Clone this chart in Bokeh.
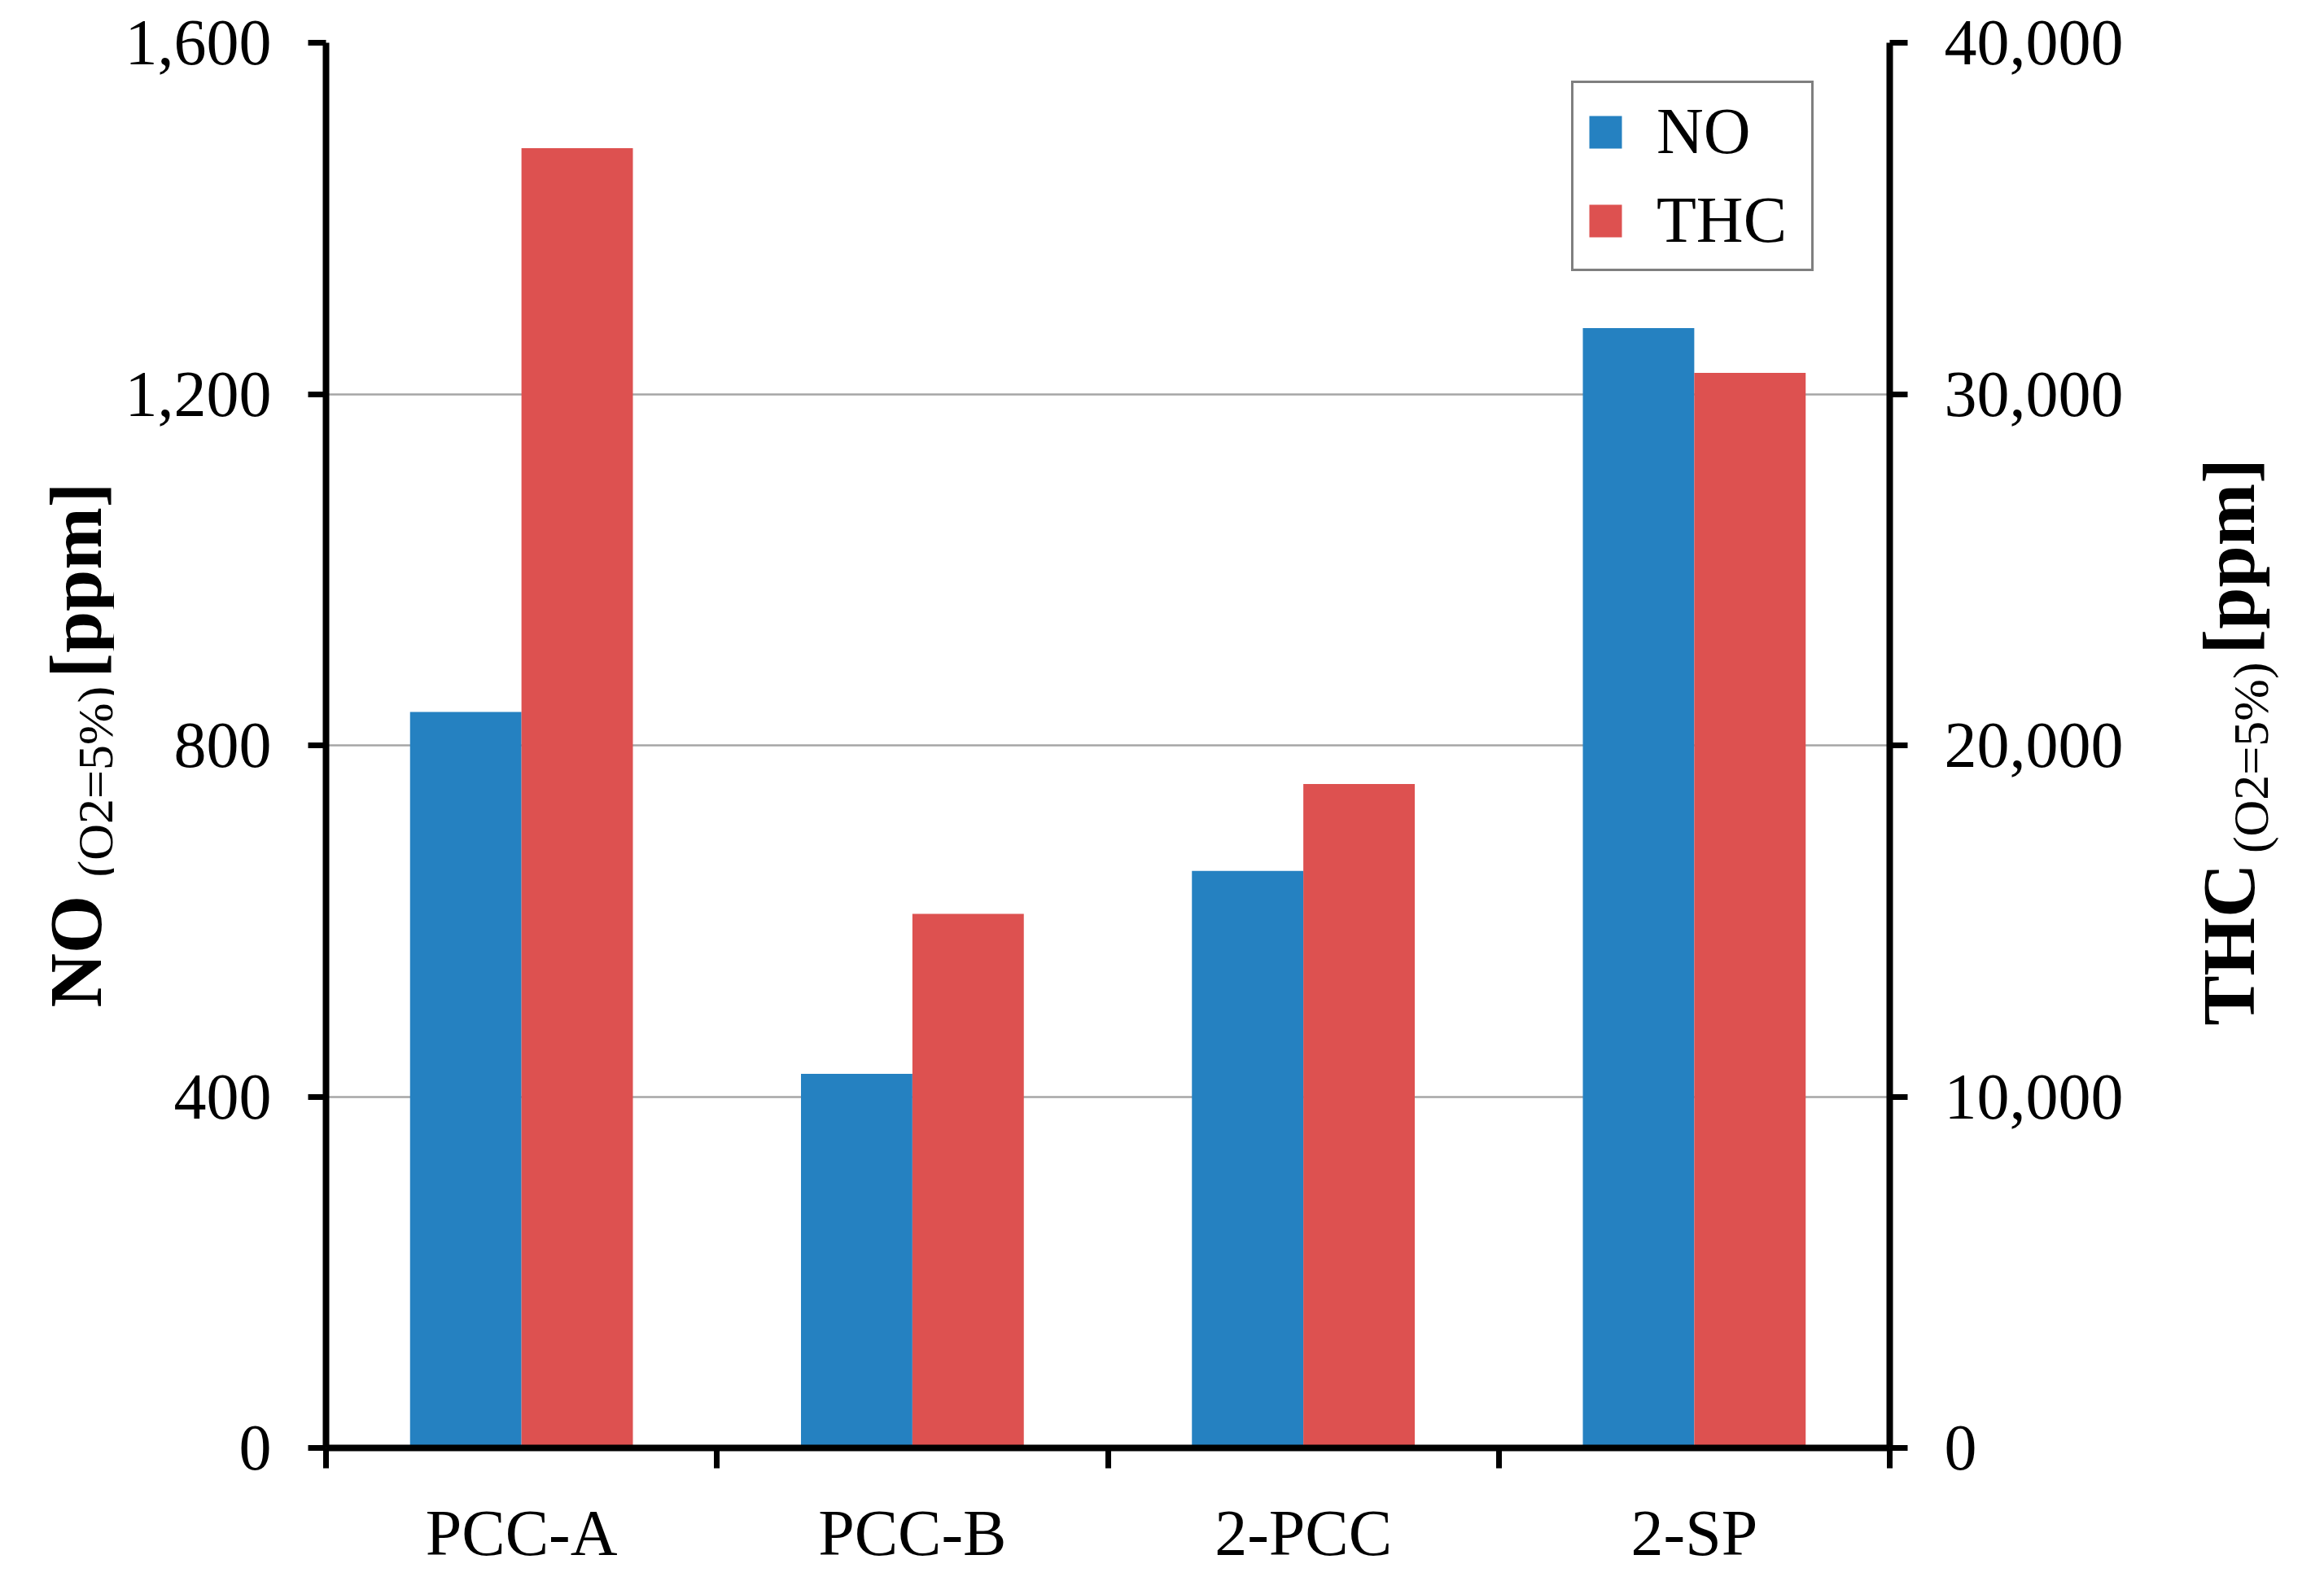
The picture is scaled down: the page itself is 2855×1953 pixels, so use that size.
import math
from bokeh.plotting import figure
from bokeh.layouts import row
from bokeh.models import (Range1d, LinearAxis, FixedTicker, NumeralTickFormatter,
                          CustomJSTickFormatter, Label, ColumnDataSource, Legend, Grid)
from bokeh.embed import file_html
from bokeh.resources import INLINE

# ---- data ----
categories = ["PCC-A", "PCC-B", "2-PCC", "2-SP"]
no_ppm = [838, 426, 657, 1275]          # left axis
thc_ppm = [37000, 15200, 18900, 30600]  # right axis
left_ticks = [0, 400, 800, 1200, 1600]
right_ticks = [0, 10000, 20000, 30000, 40000]

FONT = "Liberation Serif"
BLUE = "#2581C1"
RED = "#DD5150"
bar_w = 0.285

idx = list(range(len(categories)))
src = ColumnDataSource(dict(
    x_no=[i + 0.5 - bar_w / 2 for i in idx],
    x_thc=[i + 0.5 + bar_w / 2 for i in idx],
    no=no_ppm, thc=thc_ppm))

H = 1940
LEFT_W, MAIN_W, RIGHT_W = 140, 2492, 207

p = figure(width=MAIN_W, height=H, output_backend="svg", toolbar_location=None,
           x_range=Range1d(0, len(categories)), y_range=Range1d(0, 1600),
           x_axis_type=None, y_axis_type=None,
           min_border_left=260, min_border_right=311, min_border_top=52,
           min_border_bottom=162)
p.extra_y_ranges = {"thc": Range1d(0, 40000)}
p.outline_line_color = None
p.background_fill_color = "white"
p.border_fill_color = "white"

r_no = p.vbar(x="x_no", top="no", width=bar_w, bottom=0, source=src,
              fill_color=BLUE, line_color=None)
r_thc = p.vbar(x="x_thc", top="thc", width=bar_w, bottom=0, source=src,
               fill_color=RED, line_color=None, y_range_name="thc")

def style_axis(ax):
    ax.axis_line_color = "black"
    ax.axis_line_width = 8
    ax.major_tick_line_color = "black"
    ax.major_tick_line_width = 7
    ax.major_tick_out = 22
    ax.major_tick_in = 0
    ax.minor_tick_line_color = None
    ax.major_label_text_font = FONT
    ax.major_label_text_font_size = "80px"
    ax.major_label_text_color = "black"
    ax.major_label_standoff = 45

# left axis
yl = LinearAxis(ticker=FixedTicker(ticks=left_ticks),
                formatter=NumeralTickFormatter(format="0,0"))
style_axis(yl)
p.add_layout(yl, "left")

# right axis
yr = LinearAxis(y_range_name="thc", ticker=FixedTicker(ticks=right_ticks),
                formatter=NumeralTickFormatter(format="0,0"))
style_axis(yr)
p.add_layout(yr, "right")

# bottom axis: labels at centres, ticks at category boundaries
xb = LinearAxis(ticker=FixedTicker(ticks=[i + 0.5 for i in idx],
                                   minor_ticks=list(range(len(categories) + 1))),
                formatter=CustomJSTickFormatter(args=dict(labels=categories),
                                                code="return labels[Math.round(tick - 0.5)] || ''"))
style_axis(xb)
xb.major_tick_line_color = None
xb.minor_tick_line_color = "black"
xb.minor_tick_line_width = 7
xb.minor_tick_out = 25
xb.minor_tick_in = 0
xb.major_label_standoff = 35
p.add_layout(xb, "below")

# grid
g = Grid(dimension=1, ticker=FixedTicker(ticks=left_ticks),
         grid_line_color="#A6A6A6", grid_line_width=2.5)
p.add_layout(g, "center")

legend = Legend(items=[("NO", [r_no]), ("THC", [r_thc])], location=(1530, 1445))
legend.label_text_font = FONT
legend.label_text_font_size = "80px"
legend.label_text_color = "black"
legend.glyph_width = 50
legend.glyph_height = 50
legend.label_standoff = 38
legend.label_width = 176
legend.padding = 14
legend.spacing = 18
legend.margin = 0
legend.border_line_color = "black"
legend.border_line_width = 3
legend.background_fill_color = "white"
legend.background_fill_alpha = 1
p.add_layout(legend, "center")

# ---- side strips holding the rotated axis titles (page-pixel data coordinates) ----
def title_strip(width, x0):
    f = figure(width=width, height=H, output_backend="svg", toolbar_location=None,
               x_range=Range1d(x0, x0 + width), y_range=Range1d(8 + H, 8),
               x_axis_location=None, y_axis_location=None,
               min_border=0, min_border_left=0, min_border_right=0,
               min_border_top=0, min_border_bottom=0)
    f.outline_line_color = None
    f.grid.visible = False
    f.background_fill_color = "white"
    f.border_fill_color = "white"
    return f

def title_piece(f, x, y, text, size, bold):
    f.add_layout(Label(x=x, y=y, x_units="data", y_units="data", angle=math.pi / 2,
                       text=text, text_font=FONT, text_font_size=size,
                       text_font_style="bold" if bold else "normal",
                       text_color="black", text_align="left",
                       text_baseline="alphabetic"))

left_strip = title_strip(LEFT_W, 8)
title_piece(left_strip, 100, 1340, "NO", "92px", True)
title_piece(left_strip, 124, 1160, "(O2=5%)", "62px", False)
title_piece(left_strip, 100, 885, "[ppm]", "92px", True)

right_x0 = 8 + LEFT_W + MAIN_W
right_strip = title_strip(RIGHT_W, right_x0)
title_piece(right_strip, 2745, 1365, "THC", "92px", True)
title_piece(right_strip, 2772, 1127, "(O2=5%)", "62px", False)
title_piece(right_strip, 2745, 852, "[ppm]", "92px", True)

layout = row(left_strip, p, right_strip, spacing=0)

open("out.html", "w").write(file_html(layout, INLINE))
